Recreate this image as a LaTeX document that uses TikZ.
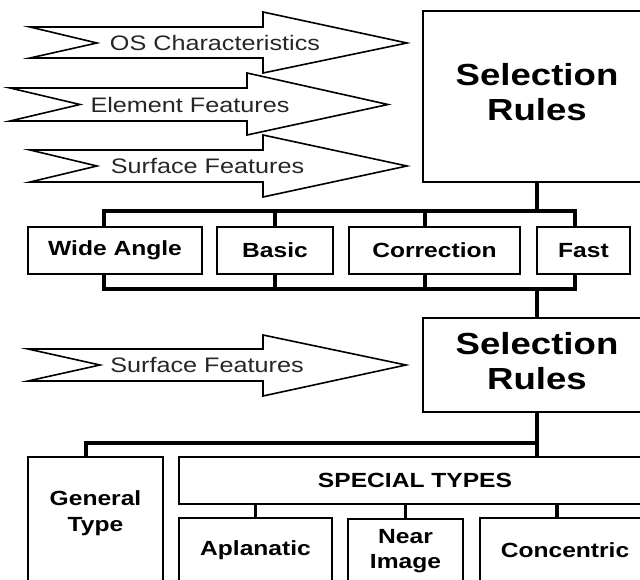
\documentclass[tikz,border=0pt]{standalone}
\usepackage{fontspec}
\setmainfont{Liberation Sans}
\usepackage{graphicx}
\newcommand\hs[1]{\scalebox{1.2}[1]{#1}}
\begin{document}
\begin{tikzpicture}[x=1pt,y=-1pt,
  box/.style={draw, line width=1.8pt, fill=white, inner sep=0pt,
    font=\bfseries\fontsize{20.5}{24.5}\selectfont, align=center},
  lbl/.style={inner sep=0pt, font=\bfseries\fontsize{20.5}{26}\selectfont, align=center},
  biglbl/.style={inner sep=0pt, font=\bfseries\fontsize{30.5}{35}\selectfont, align=center},
  bar/.style={line width=3.2pt},
  feat/.style={draw, line width=1.6pt},
  flbl/.style={inner sep=0pt, font=\fontsize{21}{25}\selectfont, text=black!85}]
\useasboundingbox (0,0) rectangle (640,580);
\clip (0,0) rectangle (640,580);

% feature arrows
\draw[feat] (30,27) -- (263,27) -- (263,12) -- (407,43) -- (263,73) -- (263,58) -- (30,58) -- (97,43) -- cycle;
\draw[feat] (10,88) -- (247,88) -- (247,73) -- (388,104.5) -- (247,135) -- (247,121) -- (10,121) -- (80,104.5) -- cycle;
\draw[feat] (30,150) -- (263,150) -- (263,135) -- (407,166) -- (263,197) -- (263,182) -- (30,182) -- (97,166) -- cycle;
\draw[feat] (28,349) -- (263,349) -- (263,335) -- (406,365) -- (263,396) -- (263,381) -- (28,381) -- (100,365) -- cycle;
\node[flbl] (osl) at (215,43) {\hs{OS Characteristics}};
\node[flbl] (ell) at (190,104.5) {\hs{Element Features}};
\node[flbl] (sfl1) at (207.5,166) {\hs{Surface Features}};
\node[flbl] (sfl2) at (207,365) {\hs{Surface Features}};

% boxes
\node[box, minimum width=228pt, minimum height=171pt] (sel1) at (537,96.5) {};
\node[biglbl] (sel1txt) at (537,92.5) {\hs{Selection}\\\hs{Rules}};
\node[box, minimum width=174pt, minimum height=47pt] (wide) at (115,250.5) {\hs{Wide Angle}};
\node[box, minimum width=116pt, minimum height=47pt] (basic) at (275,250.5) {\hs{Basic}};
\node[box, minimum width=171pt, minimum height=47pt] (corr) at (434.5,250.5) {\hs{Correction}};
\node[box, minimum width=93pt, minimum height=47pt] (fast) at (583.5,250.5) {\hs{Fast}};
\node[box, minimum width=228pt, minimum height=94pt] (sel2) at (537,365) {};
\node[biglbl] (sel2txt) at (537,361) {\hs{Selection}\\\hs{Rules}};
\node[box, minimum width=472pt, minimum height=47pt] (spec) at (415,480.5) {\hs{SPECIAL TYPES}};
\node[box, minimum width=135pt, minimum height=143pt] (gen) at (95.5,528.5) {};
\node[lbl] (gentxt) at (95.5,513) {\hs{General}\\\hs{Type}};
\node[box, minimum width=153pt, minimum height=64pt] (apl) at (255.5,550) {\hs{Aplanatic}};
\node[box, minimum width=115pt, minimum height=64pt] (near) at (405.5,551) {\hs{Near}\\\hs{Image}};
\node[box, minimum width=170pt, minimum height=64pt] (conc) at (565,550) {\hs{Concentric}};

% brackets round the four types
\coordinate (tbL) at (104,211);
\coordinate (tbR) at (575,211);
\coordinate (bbL) at (104,289);
\coordinate (bbR) at (575,289);
\coordinate (cx) at (425,211);
\draw[bar] (wide.north -| tbL) -- (tbL) -- (tbR) -- (fast.north -| tbR);
\draw[bar] (basic.north) -- (basic.north |- tbL);
\draw[bar] (corr.north -| cx) -- (cx);
\draw[bar] (wide.south -| bbL) -- (bbL) -- (bbR) -- (fast.south -| bbR);
\draw[bar] (basic.south) -- (basic.south |- bbL);
\draw[bar] (corr.south -| cx) -- (cx |- bbL);
\draw[bar] (sel1.south) -- (sel1.south |- tbL);
\draw[bar] (sel1.south |- bbL) -- (sel2.north);

% lower tree
\coordinate (bb) at (86,443);
\draw[bar] (sel2.south) -- (sel2.south |- spec.north);
\draw[bar] (gen.north -| bb) -- (bb) -- (sel2.south |- bb);
\coordinate (cc) at (557,504);
\draw[bar] (spec.south -| apl.north) -- (apl.north);
\draw[bar] (spec.south -| near.north) -- (near.north);
\draw[bar] (cc) -- (conc.north -| cc);
\end{tikzpicture}
\end{document}
